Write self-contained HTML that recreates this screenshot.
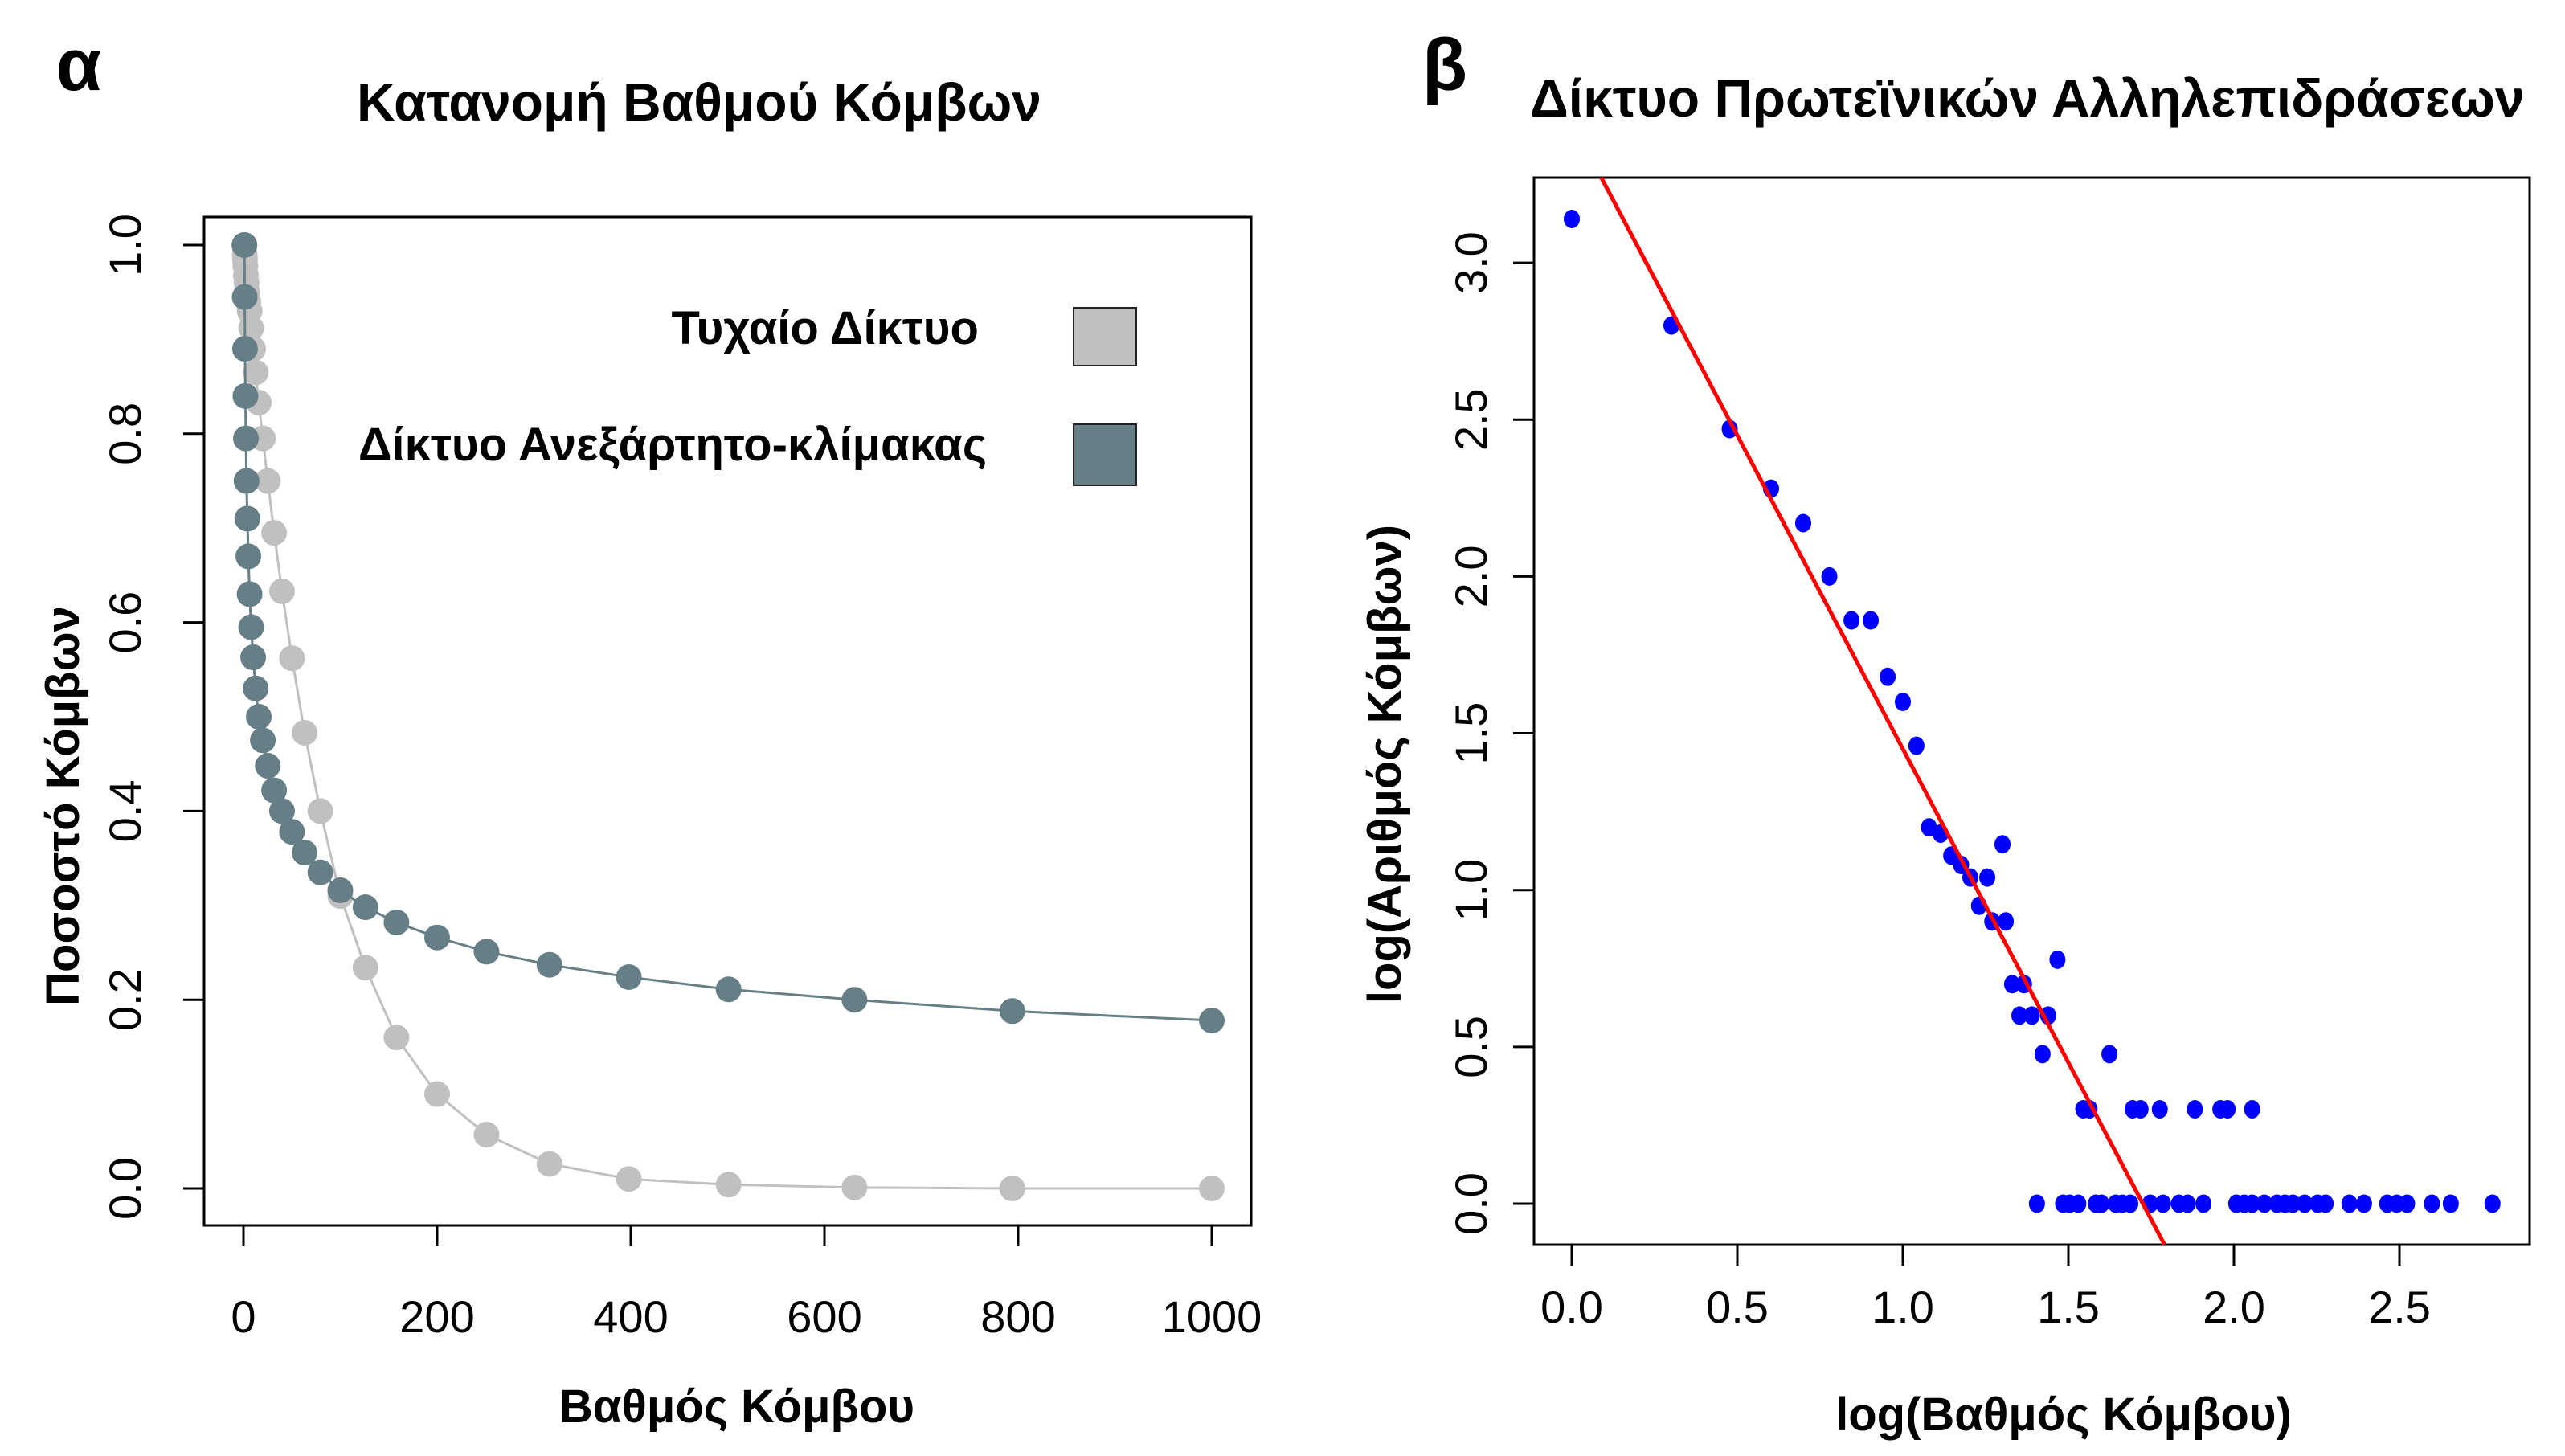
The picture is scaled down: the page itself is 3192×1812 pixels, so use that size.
<!DOCTYPE html>
<html><head><meta charset="utf-8">
<style>
html,body{margin:0;padding:0;background:#fff;}
svg{display:block;font-family:"Liberation Sans",Arial,sans-serif;}
</style></head>
<body>
<svg id="fig" width="3192" height="1812" viewBox="0 0 3192 1812" xmlns="http://www.w3.org/2000/svg">
<rect width="3192" height="1812" fill="#fff"/>
<text x="98" y="112" font-size="92" font-weight="bold" text-anchor="middle">α</text>
<text x="870" y="150" font-size="66" font-weight="bold" text-anchor="middle">Κατανομή Βαθμού Κόμβων</text>
<text x="1798" y="112" font-size="92" font-weight="bold" text-anchor="middle">β</text>
<text x="2523" y="145" font-size="66" font-weight="bold" text-anchor="middle">Δίκτυο Πρωτεϊνικών Αλληλεπιδράσεων</text>
<g id="left"></g>
<g id="right"></g>
</svg>
<script>
// ---- Left chart data ----
const degreeValues = [1,1.26,1.58,2,2.51,3.16,3.98,5.01,6.31,7.94,10,12.6,15.8,20,25.1,31.6,39.8,50.1,63.1,79.4,100,126,158,200,251,316,398,501,631,794,1000];
const randomShare = [1,0.99,0.985,0.978,0.968,0.96,0.95,0.94,0.93,0.912,0.89,0.865,0.833,0.795,0.75,0.695,0.633,0.562,0.483,0.40,0.31,0.234,0.16,0.1,0.057,0.026,0.01,0.004,0.001,0.0,0.0];
const scaleFreeShare = [1,0.945,0.89,0.84,0.795,0.75,0.71,0.67,0.63,0.595,0.563,0.53,0.5,0.475,0.448,0.422,0.4,0.378,0.356,0.335,0.316,0.298,0.282,0.266,0.251,0.237,0.224,0.211,0.2,0.188,0.178];
const leftXTicks = [0,200,400,600,800,1000];
const leftYTicks = [0,0.2,0.4,0.6,0.8,1.0];
const leftYTickLabels = ["0.0","0.2","0.4","0.6","0.8","1.0"];

// ---- Right chart data ----
const logDegree = [0,0.301,0.477,0.602,0.699,0.778,0.845,0.903,0.954,1.0,1.041,1.079,1.114,1.146,1.176,1.204,1.255,1.230,1.270,1.301,1.311,1.330,1.366,1.352,1.390,1.439,1.422,1.467,1.624,
 1.545,1.564,1.694,1.718,1.776,1.882,1.959,1.981,2.055,
 1.405,1.484,1.504,1.530,1.583,1.600,1.643,1.663,1.687,1.747,1.786,1.834,1.860,1.908,2.007,2.031,2.055,2.092,2.130,2.154,2.178,2.214,2.253,2.277,2.349,2.393,2.463,2.492,2.523,2.598,2.655,2.781];
const logCount = [3.14,2.80,2.47,2.28,2.17,2.0,1.86,1.86,1.68,1.60,1.46,1.20,1.18,1.11,1.08,1.04,1.04,0.95,0.90,1.146,0.90,0.70,0.70,0.60,0.60,0.60,0.477,0.778,0.477,
 0.301,0.301,0.301,0.301,0.301,0.301,0.301,0.301,0.301,
 0,0,0,0,0,0,0,0,0,0,0,0,0,0,0,0,0,0,0,0,0,0,0,0,0,0,0,0,0,0,0,0];
const fitIntercept = [3.45];
const fitSlope = [-2.0];
const rightXTicks = [0,0.5,1.0,1.5,2.0,2.5];
const rightXTickLabels = ["0.0","0.5","1.0","1.5","2.0","2.5"];
const rightYTicks = [0,0.5,1.0,1.5,2.0,2.5,3.0];
const rightYTickLabels = ["0.0","0.5","1.0","1.5","2.0","2.5","3.0"];

const NS="http://www.w3.org/2000/svg";
function mk(parent,tag,attrs,text){const e=document.createElementNS(NS,tag);for(const k in attrs)e.setAttribute(k,attrs[k]);if(text!==undefined)e.textContent=text;parent.appendChild(e);return e;}

// ---- Left chart ----
const L=document.getElementById('left');
const lx=v=>303+v*(1508-303)/1000;
const ly=v=>1479-v*(1479-305);
let e=mk(L,'rect',{x:254,y:270,width:1303,height:1255,fill:'none',stroke:'#000','stroke-width':3});


leftXTicks.forEach(t=>{
 let l=mk(L,'line',{x1:lx(t),x2:lx(t),y1:1525,y2:1551,stroke:'#000','stroke-width':3});
 
 
 let s=mk(L,'text',{x:lx(t),y:1658,'font-size':56,'text-anchor':'middle'},String(t));
 
 
});
leftYTicks.forEach((t,i)=>{
 let l=mk(L,'line',{x1:228,x2:254,y1:ly(t),y2:ly(t),stroke:'#000','stroke-width':3});
 
 
 let s=mk(L,'text',{x:0,y:0,'font-size':56,'text-anchor':'middle',transform:`translate(175,${ly(t)}) rotate(-90)`},leftYTickLabels[i]);
 
 
});
e=mk(L,'text',{x:917,y:1770,'font-size':58,'font-weight':'bold','text-anchor':'middle'},'Βαθμός Κόμβου');


e=mk(L,'text',{x:0,y:0,'font-size':58,'font-weight':'bold','text-anchor':'middle',transform:'translate(98,1003) rotate(-90)'},'Ποσοστό Κόμβων');


function series(vals,color,name){
 const pts=degreeValues.map((d,i)=>lx(d)+','+ly(vals[i])).join(' ');
 let p=mk(L,'polyline',{points:pts,fill:'none',stroke:color,'stroke-width':3});
 
 
 degreeValues.forEach((d,i)=>{
  let c=mk(L,'circle',{cx:lx(d),cy:ly(vals[i]),r:16,fill:color});
  
  
 });
}
series(randomShare,'#c0c0c0','random-network');
series(scaleFreeShare,'#667f87','scale-free-network');
e=mk(L,'text',{x:1218,y:428,'font-size':58,'font-weight':'bold','text-anchor':'end'},'Τυχαίο Δίκτυο');


e=mk(L,'rect',{x:1336,y:383,width:78,height:72,fill:'#c0c0c0',stroke:'#222','stroke-width':2});


e=mk(L,'text',{x:1228,y:573,'font-size':58,'font-weight':'bold','text-anchor':'end'},'Δίκτυο Ανεξάρτητο-κλίμακας');


e=mk(L,'rect',{x:1336,y:528,width:78,height:76,fill:'#667f87',stroke:'#222','stroke-width':2});



// ---- Right chart ----
const R=document.getElementById('right');
const rx=v=>1956+v*412;
const ry=v=>1498-v*390.3;
const ryInv=p=>(1498-p)/390.3;
e=mk(R,'rect',{x:1909,y:221,width:1239,height:1328,fill:'none',stroke:'#000','stroke-width':3});


rightXTicks.forEach((t,i)=>{
 let l=mk(R,'line',{x1:rx(t),x2:rx(t),y1:1549,y2:1575,stroke:'#000','stroke-width':3});
 
 
 let s=mk(R,'text',{x:rx(t),y:1646,'font-size':56,'text-anchor':'middle'},rightXTickLabels[i]);
 
 
});
rightYTicks.forEach((t,i)=>{
 let l=mk(R,'line',{x1:1883,x2:1909,y1:ry(t),y2:ry(t),stroke:'#000','stroke-width':3});
 
 
 let s=mk(R,'text',{x:0,y:0,'font-size':56,'text-anchor':'middle',transform:`translate(1850,${ry(t)}) rotate(-90)`},rightYTickLabels[i]);
 
 
});
e=mk(R,'text',{x:2568,y:1780,'font-size':58,'font-weight':'bold','text-anchor':'middle'},'log(Βαθμός Κόμβου)');


e=mk(R,'text',{x:0,y:0,'font-size':58,'font-weight':'bold','text-anchor':'middle',transform:'translate(1743,951) rotate(-90)'},'log(Αριθμός Κόμβων)');


logDegree.forEach((d,i)=>{
 let c=mk(R,'ellipse',{cx:rx(d),cy:ry(logCount[i]),rx:10,ry:11.5,fill:'#0000ff'});
 
 
});
const yTop=ryInv(221), yBot=ryInv(1549);
const x1=(yTop-fitIntercept[0])/fitSlope[0], x2=(yBot-fitIntercept[0])/fitSlope[0];
e=mk(R,'line',{x1:rx(x1),y1:ry(yTop),x2:rx(x2),y2:ry(yBot),stroke:'#ff0000','stroke-width':5});


</script>
</body></html>
